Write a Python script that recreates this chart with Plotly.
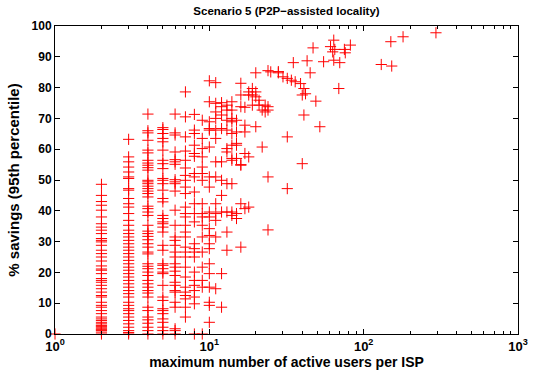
import plotly.graph_objects as go

# values per integer x (maximum number of active users per ISP)
savings_by_users = {
    1: [0],
    2: [48.6, 45, 43, 41.8, 40.2, 38, 35.8, 34.7, 33.7, 32.6, 31, 30.4, 29.9, 28.8, 27.2, 26.1, 25,
        23.7, 22.1, 21.1, 20.7, 19.6, 18, 17.4, 16.8, 15.8, 14.7, 13.6, 12.5, 12, 10.3, 9.3, 8.7,
        7.6, 6.6, 5.5, 4.9, 4.4, 3.8, 3.3, 2.8, 2.2, 1.7, 1.1, 0.6, 0, 1.4, 2.5],
    3: [63.2, 57.5, 55.9, 54.2, 52.6, 51, 50.5, 47.2, 46.7, 44, 42.3, 41.2, 39.1, 36.9, 35.3, 33.7,
        32.6, 31.5, 30.4, 29.3, 28.2, 27.2, 26.1, 25, 23.9, 22.8, 21.7, 20.7, 19.6, 18.5, 17.4,
        16.3, 15.2, 14.1, 13.1, 12, 10.3, 9.3, 8.2, 7.6, 6.6, 5.5, 4.4, 3.3, 2.2, 1.1, 0, 0.5],
    4: [71.4, 66, 65.3, 62.9, 59.7, 58.8, 56.4, 55.5, 54.8, 54, 53.2, 49.9, 49.4, 48.8, 48, 47.2,
        46.4, 45.6, 44.5, 41.5, 40.7, 39.6, 38.5, 35.3, 33.4, 32.6, 31.7, 30.6, 29.3, 28.2, 26.6,
        26, 22.8, 22, 21.2, 20.1, 19, 17.4, 16.3, 15.2, 14.1, 13.3, 12, 8.7, 7.6, 5.5, 4.6, 3.5,
        2.2, 1.1, 0],
    5: [67, 66.4, 65.1, 63.5, 62.4, 59.7, 56.4, 55.3, 53.7, 50.5, 49.9, 48.8, 46.7, 44, 42.9, 38.5,
        37.5, 36.4, 35.8, 34.7, 33.1, 28.8, 27.2, 22.8, 22.3, 21.2, 20.1, 19.6, 15.8, 12, 10.9,
        8.2, 7.6, 6.6, 4.9, 3.8, 2.2, 1.1, 0],
    6: [71.4, 65.3, 64.6, 59.1, 56.6, 55.9, 55.1, 50.1, 49.4, 48.8, 46.4, 40.2, 35.3, 31.5, 30.4,
        28.8, 26.6, 25, 22.8, 21.7, 20.4, 19, 16.8, 15.8, 14.1, 13.6, 10.3, 8.7, 1.7, 1.1, 0],
    7: [78.6, 70.5, 64, 59.4, 56.4, 53.9, 51.5, 49.9, 47.7, 45.6, 41.2, 39.1, 38, 35.3, 33.1, 31.5,
        28.2, 26.6, 25, 21.7, 18.5, 15.2, 13.6, 12.5, 11.4, 8.7, 5.5],
    8: [71.3, 66.2, 65.1, 61.3, 58.6, 57.7, 52.1, 51, 46.1, 42.3, 39.1, 36.4, 29.3, 27.7, 26.6, 25,
        20.1, 17.4, 15.8, 14.1, 12, 9.8, 0],
    9: [69.4, 63.5, 60.2, 57.5, 54.2, 52.1, 49.9, 42.3, 39.1, 38, 35.3, 31.5, 26.6, 21.7, 17.4,
        15.2, 0],
    10: [82.2, 75.4, 68.9, 66.7, 66.2, 60.7, 51, 47.7, 39.6, 38, 34.2, 32, 29.3, 27.7, 22.8, 19.6,
         15.2, 10.3, 9.3, 3.8],
    11: [81.6, 74.9, 72.1, 70, 66.2, 63.5, 55.9, 51, 42.3, 39.1, 36.9, 31.5, 14.7],
    12: [75.1, 73.8, 71.1, 66.7, 55.9, 49.9, 45, 39.6, 19.6, 8.7],
    13: [74.3, 72.7, 69.4, 66.2, 60.2, 59.1, 48.8, 39.6, 33.1, 27.2],
    14: [75.4, 72.7, 70, 68.9, 65.1, 61.3, 57, 56.4, 48.8, 39.6, 38.5],
    15: [69.4, 65.6, 61.9, 61.3, 57, 39.1, 37.5],
    16: [81.4, 77.6, 73.8, 55, 54.8, 42.3, 28.2],
    17: [73.6, 67.8, 65.6, 58.6, 40.7],
    18: [78.6, 77.6, 57.5, 41.2],
    19: [79.7, 77.6, 74.3],
    20: [84.8, 78.6, 77, 67.3],
    21: [75.9, 74.3],
    22: [72.7, 60.7],
    23: [74.3, 72.1],
    24: [85.5, 73.8, 72.7, 51, 33.8],
    25: [85.1],
    28: [85.2, 84.8],
    30: [83.5],
    32: [83, 64, 47.2],
    34: [82.4],
    35: [88.1],
    36: [81.9],
    39: [81.3],
    40: [77.6, 55.3],
    41: [79.7, 71.1],
    42: [78],
    43: [88.7],
    45: [84.8],
    47: [92.9],
    49: [75.6],
    52: [67.3],
    55: [88.4],
    61: [93.3],
    63: [91.6],
    64: [95.4, 88.9],
    65: [92.4],
    69: [79.7],
    70: [88.1],
    75: [92.4],
    76: [91.3],
    82: [93.8],
    130: [87.5],
    150: [94.9],
    152: [87],
    180: [96.5],
    294: [97.8],
}

users = []
savings = []
for u, vals in savings_by_users.items():
    for v in vals:
        users.append(u)
        savings.append(v)

x_tick_vals = [1, 10, 100, 1000]
x_tick_text = ["10<sup>0</sup>", "10<sup>1</sup>", "10<sup>2</sup>", "10<sup>3</sup>"]
x_minor_vals = [m * d for d in (1, 10, 100) for m in range(2, 10)]
y_tick_vals = list(range(0, 101, 10))

title_text = "Scenario 5 (P2P\u2212assisted locality)"
x_label = "maximum number of active users per ISP"
y_label = "% savings (95th percentile)"

FONT = "Liberation Sans, Arial, sans-serif"

fig = go.Figure()
fig.add_trace(go.Scatter(
    x=users, y=savings, mode="markers",
    marker=dict(symbol="cross-thin", size=8, color="red",
                line=dict(color="red", width=1)),
    cliponaxis=False, showlegend=False,
))

axis_common = dict(
    showgrid=False, zeroline=False, showline=True, linecolor="black", linewidth=1,
    mirror="allticks", ticks="inside", ticklen=5, tickcolor="black", tickwidth=1,
    automargin=False,
)

fig.update_layout(
    width=536, height=376,
    margin=dict(l=55, r=18, t=26, b=42),
    paper_bgcolor="white", plot_bgcolor="white",
    title=dict(text=title_text, xref="paper", x=0.5, xanchor="center",
               yref="container", y=0.972, yanchor="middle",
               font=dict(family=FONT, size=11.5, color="black", weight="bold")),
    xaxis=dict(type="log", range=[0, 3], tickvals=x_tick_vals, ticktext=x_tick_text,
               tickfont=dict(family=FONT, size=13, color="black", weight="bold"),
               title=dict(text=x_label, standoff=0,
                          font=dict(family=FONT, size=14, color="black", weight="bold")),
               minor=dict(tickvals=x_minor_vals, ticks="inside", ticklen=3,
                          tickcolor="black", tickwidth=1, showgrid=False),
               **axis_common),
    yaxis=dict(range=[0, 100], tickvals=y_tick_vals,
               tickfont=dict(family=FONT, size=12, color="black", weight="bold"),
               title=dict(text=y_label, standoff=8,
                          font=dict(family=FONT, size=15, color="black", weight="bold")),
               **axis_common),
)

fig.write_html("out.html")
